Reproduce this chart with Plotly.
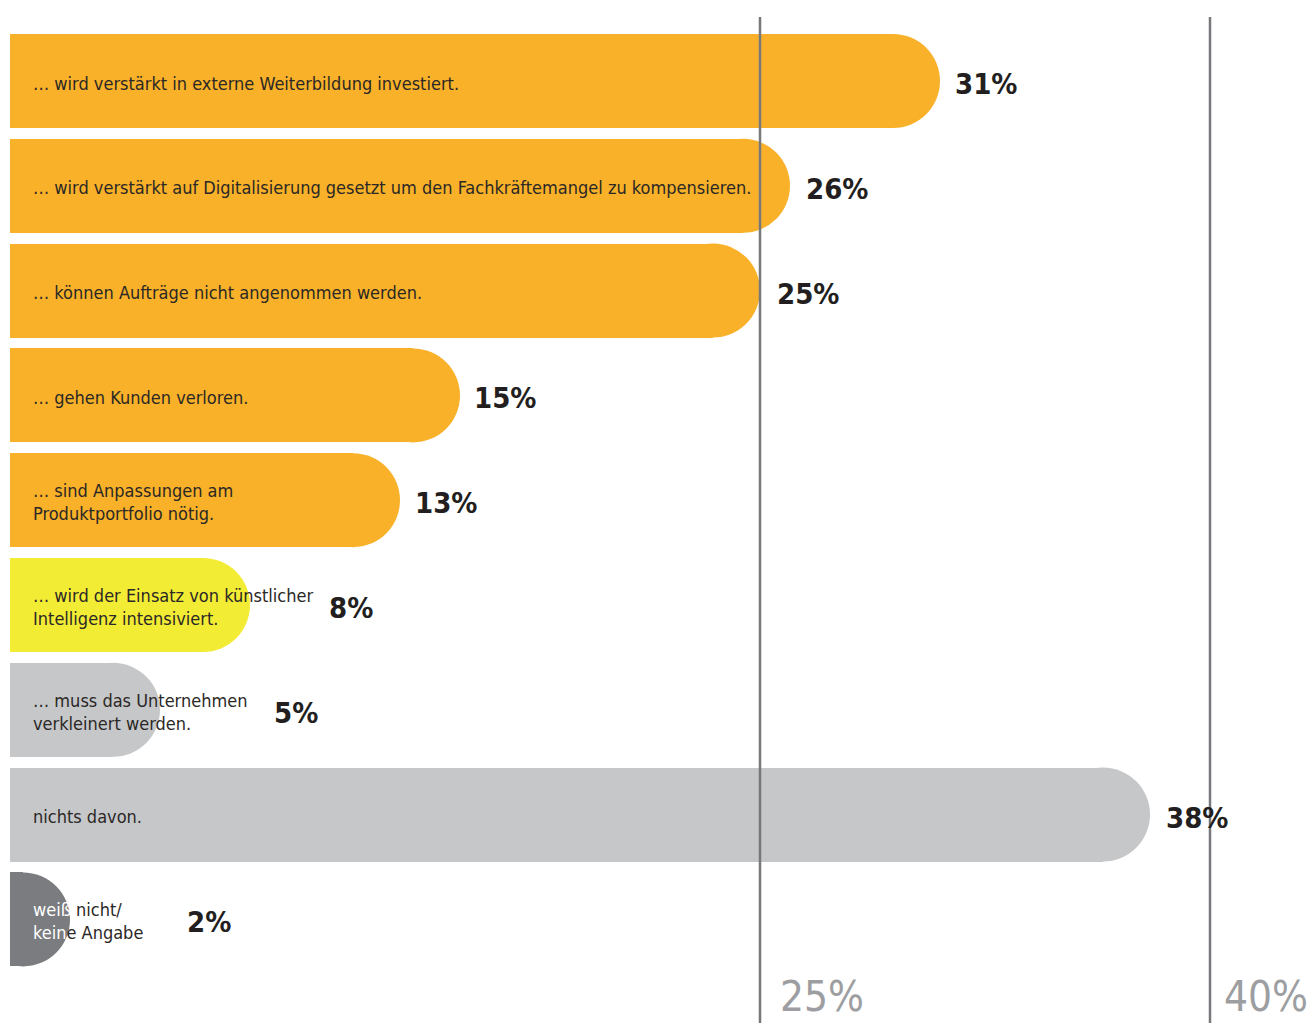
import plotly.graph_objects as go

# Survey answers: consequences of the skilled-labour shortage
labels = [
    "… wird verstärkt in externe Weiterbildung investiert.",
    "… wird verstärkt auf Digitalisierung gesetzt um den Fachkräftemangel zu kompensieren.",
    "… können Aufträge nicht angenommen werden.",
    "… gehen Kunden verloren.",
    "… sind Anpassungen am<br>Produktportfolio nötig.",
    "… wird der Einsatz von künstlicher<br>Intelligenz intensiviert.",
    "… muss das Unternehmen<br>verkleinert werden.",
    "nichts davon.",
    "<span style='color:#ffffff'>weiß</span> nicht/<br><span style='color:#ffffff'>kein</span>e Angabe",
]
values = [31, 26, 25, 15, 13, 8, 5, 38, 2]
bar_colors = ["#F8B128", "#F8B128", "#F8B128", "#F8B128", "#F8B128",
              "#F3EC35", "#C6C7C9", "#C6C7C9", "#7B7C7F"]
ref_lines = [25, 40]
ref_labels = ["25%", "40%"]

# Geometry (pixels) used to turn the round caps into data units
W, H = 1311, 1023
LEFT = 10
PX_PER_UNIT_X = 30.0
PX_PER_ROW = 104.8
FIRST_ROW_PX = 81
BAR_PX = 94
CAP_R = (BAR_PX / 2) / PX_PER_UNIT_X  # cap radius in x units

x_max = (W - LEFT) / PX_PER_UNIT_X
y_top = -FIRST_ROW_PX / PX_PER_ROW
y_bot = (H - FIRST_ROW_PX) / PX_PER_ROW

FONT = "DejaVu Sans Condensed, Liberation Sans Narrow, Arial Narrow, sans-serif"
TEXT_DARK = "#2b2826"

rows = list(range(len(values)))
straight = [max(v - CAP_R, 0) for v in values]
cap_centres = [v - CAP_R for v in values]

fig = go.Figure()

# straight part of each bar
fig.add_trace(go.Bar(
    x=straight, y=rows, base=0, orientation="h",
    width=BAR_PX / PX_PER_ROW,
    marker=dict(color=bar_colors, line=dict(width=0)),
    hoverinfo="skip", showlegend=False,
))
# rounded end cap of each bar
fig.add_trace(go.Scatter(
    x=cap_centres, y=rows, mode="markers",
    marker=dict(size=BAR_PX, color=bar_colors, line=dict(width=0), symbol="circle"),
    cliponaxis=True, hoverinfo="skip", showlegend=False,
))

# reference lines
for xv in ref_lines:
    fig.add_shape(type="line", xref="x", yref="paper", x0=xv, x1=xv,
                  y0=0, y1=(H - 17) / H, layer="above",
                  line=dict(color="#77787B", width=2.5))

# category labels inside the bars
for i, t in enumerate(labels):
    fig.add_annotation(x=0, y=i, xref="x", yref="y", text=t, showarrow=False,
                       xanchor="left", yanchor="middle", xshift=21, yshift=-2,
                       align="left",
                       font=dict(family=FONT, size=18, color=TEXT_DARK))

# value labels; where the caption runs past the bar the value sits after it
value_shift = [13, 14, 15, 12, 13, 77, 112, 14, 115]
for i, v in enumerate(values):
    fig.add_annotation(x=v, y=i, xref="x", yref="y", text=f"<b>{v}%</b>",
                       showarrow=False, xanchor="left", yanchor="middle",
                       xshift=value_shift[i], yshift=-3,
                       font=dict(family=FONT, size=29, color="#231F20"))

# reference line captions
for xv, t, dx in zip(ref_lines, ref_labels, [18, 12]):
    fig.add_annotation(x=xv, y=0, xref="x", yref="paper", text=t, showarrow=False,
                       xanchor="left", yanchor="bottom", xshift=dx, yshift=0,
                       font=dict(family=FONT, size=42, color="#9D9EA1"))

fig.update_layout(
    width=W, height=H,
    margin=dict(l=LEFT, r=0, t=0, b=0),
    paper_bgcolor="white", plot_bgcolor="white",
    bargap=0,
    xaxis=dict(range=[0, x_max], visible=False, fixedrange=True),
    yaxis=dict(range=[y_bot, y_top], visible=False, fixedrange=True),
)

fig.write_html("out.html")
